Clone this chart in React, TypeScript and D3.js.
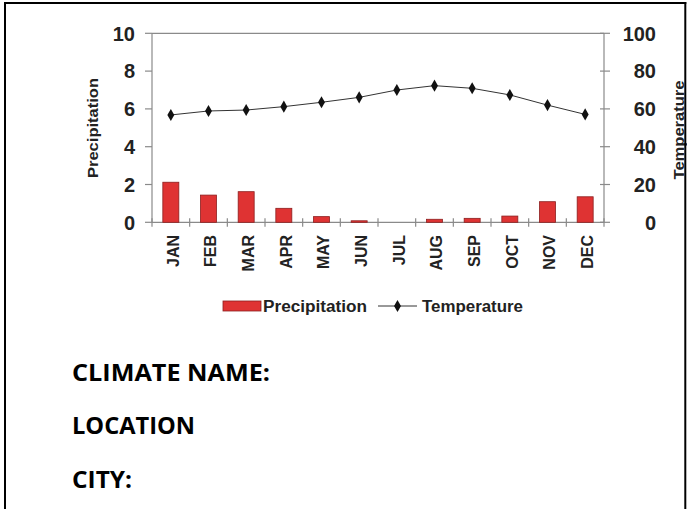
import React from "react";
import * as d3 from "d3";

// Monthly climate data
const months = ["JAN", "FEB", "MAR", "APR", "MAY", "JUN", "JUL", "AUG", "SEP", "OCT", "NOV", "DEC"];
const precipitation = [2.12, 1.44, 1.62, 0.74, 0.3, 0.08, 0, 0.16, 0.21, 0.33, 1.09, 1.35];
const temperature = [56.8, 58.9, 59.4, 61.2, 63.5, 66.1, 70.0, 72.3, 70.9, 67.4, 62.0, 57.1];
const precipTicks = [0, 2, 4, 6, 8, 10];
const tempTicks = [0, 20, 40, 60, 80, 100];
const worksheetLines = ["CLIMATE NAME:", "LOCATION", "CITY:"];

const W = 687;
const H = 509;
const plot = { left: 152, right: 604, top: 33.3, bottom: 222.3 };

const ARIAL = "'Liberation Sans', Arial, sans-serif";
const AXIS = "#8a8a8a";
const BAR_FILL = "#df3333";
const BAR_STROKE = "#8c1e1e";

export default function App() {
  const x = d3.scaleBand<string>().domain(months).range([plot.left, plot.right]).paddingInner(0).paddingOuter(0);
  const yP = d3.scaleLinear().domain([0, 10]).range([plot.bottom, plot.top]);
  const yT = d3.scaleLinear().domain([0, 100]).range([plot.bottom, plot.top]);
  const barW = 16;
  const cx = (m: string) => (x(m) as number) + x.bandwidth() / 2;

  const line = d3
    .line<number>()
    .x((_, i) => cx(months[i]))
    .y((d) => yT(d));

  const diamond = d3.symbol(d3.symbolDiamond, 42)();
  const boundaries = d3.range(months.length + 1).map((k) => plot.left + k * x.bandwidth());

  return (
    <svg
      width={W}
      height={H}
      style={{ position: "absolute", left: 0, top: 0, background: "#fff" }}
      fontFamily={ARIAL}
    >
      <rect x={0} y={0} width={W} height={H} fill="#fff" />

      {/* plot frame: top edge and axes */}
      <line x1={plot.left} x2={plot.right} y1={plot.top} y2={plot.top} stroke={AXIS} strokeWidth={1.2} />
      <line x1={plot.left} x2={plot.left} y1={plot.top} y2={plot.bottom} stroke={AXIS} strokeWidth={1.2} />
      <line x1={plot.right} x2={plot.right} y1={plot.top} y2={plot.bottom} stroke={AXIS} strokeWidth={1.2} />
      <line x1={plot.left} x2={plot.right} y1={plot.bottom} y2={plot.bottom} stroke={AXIS} strokeWidth={1.2} />

      {/* category ticks */}
      {boundaries.map((bx, i) => (
        <line key={"ct" + i} x1={bx} x2={bx} y1={plot.bottom - 4} y2={plot.bottom + 4.5} stroke={AXIS} strokeWidth={1.2} />
      ))}

      {/* left axis: precipitation */}
      {precipTicks.map((t) => (
        <g key={"lp" + t}>
          <line x1={plot.left - 7} x2={plot.left} y1={yP(t)} y2={yP(t)} stroke={AXIS} strokeWidth={1.2} />
          <text x={135} y={yP(t)} dy="0.36em" textAnchor="end" fontSize={20} fontWeight={700} fill="#222">
            {t}
          </text>
        </g>
      ))}

      {/* right axis: temperature */}
      {tempTicks.map((t) => (
        <g key={"rt" + t}>
          <line x1={plot.right - 4} x2={plot.right + 6} y1={yT(t)} y2={yT(t)} stroke={AXIS} strokeWidth={1.2} />
          <text x={656} y={yT(t)} dy="0.36em" textAnchor="end" fontSize={20} fontWeight={700} fill="#222">
            {t}
          </text>
        </g>
      ))}

      {/* precipitation bars */}
      {precipitation.map((v, i) => (
        <rect
          key={"b" + i}
          x={cx(months[i]) - barW / 2}
          y={yP(v)}
          width={barW}
          height={plot.bottom - yP(v)}
          fill={BAR_FILL}
          stroke={v > 0 ? BAR_STROKE : "none"}
          strokeWidth={0.8}
        />
      ))}

      {/* temperature line */}
      <path d={line(temperature) || ""} fill="none" stroke="#333" strokeWidth={1} />
      {temperature.map((v, i) => (
        <path key={"m" + i} d={diamond || ""} transform={`translate(${cx(months[i])},${yT(v)})`} fill="#111" />
      ))}

      {/* month labels */}
      {months.map((m) => (
        <text
          key={"ml" + m}
          transform={`translate(${cx(m) + 2},235) rotate(-90)`}
          textAnchor="end"
          dy="0.36em"
          fontSize={16}
          fontWeight={700}
          fill="#222"
        >
          {m}
        </text>
      ))}

      {/* axis titles */}
      <text
        transform={`translate(98,128) rotate(-90)`}
        textAnchor="middle"
        fontSize={15}
        fontWeight={700}
        fill="#222"
        textLength={100}
        lengthAdjust="spacingAndGlyphs"
      >
        Precipitation
      </text>
      <text
        transform={`translate(684,130) rotate(-90)`}
        textAnchor="middle"
        fontSize={15}
        fontWeight={700}
        fill="#222"
        textLength={99}
        lengthAdjust="spacingAndGlyphs"
      >
        Temperature
      </text>

      {/* legend */}
      <rect x={223} y={301} width={38} height={10} fill={BAR_FILL} stroke={BAR_STROKE} strokeWidth={0.8} />
      <text x={263} y={312} fontSize={16} fontWeight={700} fill="#222" textLength={104} lengthAdjust="spacingAndGlyphs">
        Precipitation
      </text>
      <line x1={378} x2={417} y1={306} y2={306} stroke="#333" strokeWidth={1} />
      <path d={diamond || ""} transform="translate(397.5,306)" fill="#111" />
      <text x={422} y={312} fontSize={16} fontWeight={700} fill="#222" textLength={101} lengthAdjust="spacingAndGlyphs">
        Temperature
      </text>

      {/* worksheet prompts */}
      {worksheetLines.map((s, i) => (
        <text
          key={"w" + i}
          x={72}
          y={380.7 + i * 53.7}
          fontFamily="'Open Sans', 'Noto Sans', sans-serif"
          fontSize={24}
          fontWeight={700}
          fill="#000"
          textLength={[198, 123, 60][i]}
          lengthAdjust="spacingAndGlyphs"
        >
          {s}
        </text>
      ))}

      {/* page border */}
      <line x1={5} x2={5} y1={2} y2={H} stroke="#000" strokeWidth={2} />
      <line x1={4} x2={686.3} y1={3} y2={3} stroke="#000" strokeWidth={2} />
      <line x1={685.3} x2={685.3} y1={2} y2={H} stroke="#000" strokeWidth={2} />
    </svg>
  );
}
